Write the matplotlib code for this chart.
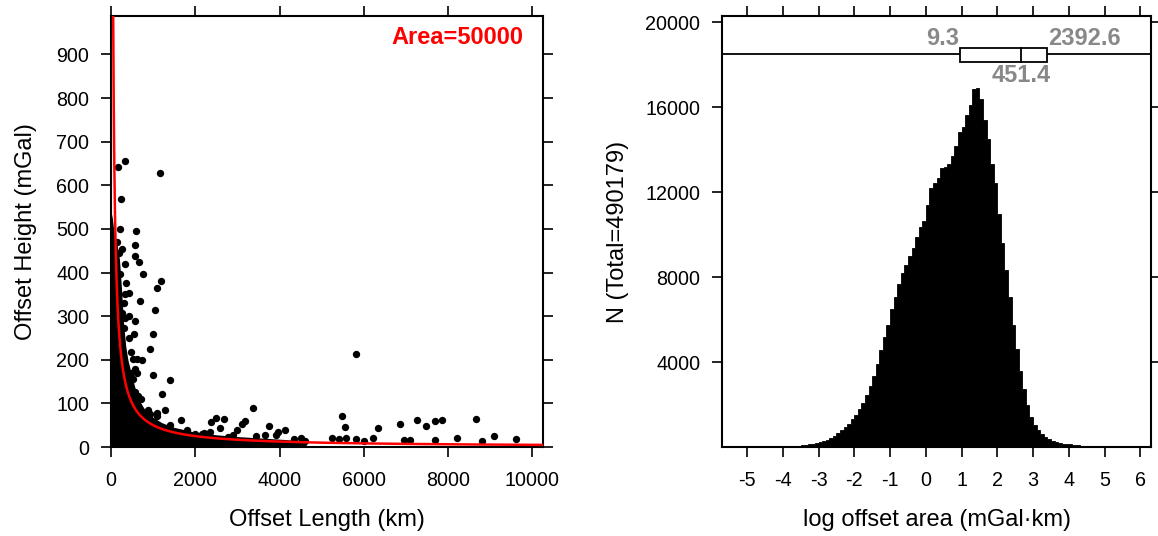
import numpy as np
import matplotlib
matplotlib.use("Agg")
import matplotlib.pyplot as plt
from matplotlib.patches import Rectangle

plt.rcParams['font.family'] = ['Liberation Sans', 'DejaVu Sans']
plt.rcParams['axes.unicode_minus'] = False

# ========== left panel data ==========
area = 50000  # reference curve: height = area / length

# sparse points (length km, height mGal)
pt_len = [170, 323, 230, 1166, 213, 596, 579, 579, 655, 323, 749, 213, 357, 1191,
          1081, 425, 698, 298, 1038, 570, 255, 340, 996, 553, 417, 936, 230, 298,
          468, 510, 613, 723, 255, 570, 613, 996, 1387, 528, 570, 638, 1217, 383,
          5804, 1277, 1081, 936, 1660, 2485, 2681, 2383, 2596, 2979, 3106, 3174,
          3379, 3745, 4128, 3957, 5472, 5549, 5574, 5804, 5234, 5404, 6000, 6213,
          6340, 6868, 6962, 7106, 7260, 7464, 7685, 7847, 7685, 8213, 8664, 8791,
          9081, 9600, 3447, 3660, 3915, 4340, 4596, 4510, 2170, 2000, 2340, 2766,
          150, 260, 200, 420, 330, 480, 700, 880, 1100, 1400, 1800, 2200, 2900]
pt_hgt = [643, 655, 568, 628, 500, 496, 464, 438, 425, 419, 396, 397, 377, 380,
          364, 354, 335, 331, 314, 290, 307, 296, 260, 260, 249, 225, 270, 272,
          217, 202, 202, 199, 202, 178, 170, 166, 153, 155, 127, 116, 121, 131,
          213, 86, 79, 75, 63, 67, 65, 57, 44, 40, 53, 59,
          90, 49, 40, 34, 72, 47, 20, 18, 20, 18, 14, 20,
          44, 53, 16, 16, 63, 49, 59, 61, 16, 20, 65, 14,
          26, 18, 26, 28, 28, 18, 14, 20, 30, 30, 34, 23,
          470, 455, 445, 300, 350, 170, 110, 85, 70, 50, 40, 32, 27]

# outline of the dense cloud of points under the curve
mass_len = [0, 30, 60, 100, 150, 200, 250, 300, 350, 400, 500, 600, 700, 800,
            1000, 1200, 1500, 2000, 2500, 3000, 3500, 4000, 4300, 4600, 4650]
mass_top = [540, 525, 500, 480, 460, 430, 360, 280, 230, 200, 160, 125, 102, 86,
            68, 56, 45, 34, 28, 24, 21, 18, 16, 13, 0]

# ========== right panel data ==========
bin_start = -4.0
bin_width = 0.1
counts = [15, 20, 30, 40, 55, 75, 100, 130, 160, 190,
          230, 280, 340, 420, 520, 640, 780, 930, 1100, 1300,
          1520, 1780, 2070, 2450, 2870, 3350, 3900, 4560, 5200, 5770,
          6490, 7050, 7700, 8180, 8580, 8980, 9380, 9870, 10350, 10670,
          11390, 12200, 12440, 12680, 13160, 13200, 13320, 13720, 14200, 14850,
          15090, 15650, 16130, 16860, 16900, 16380, 15410, 14530, 13320, 12440,
          10990, 9630, 8340, 7050, 5770, 4640, 3600, 2710, 1990, 1420,
          1020, 780, 590, 460, 370, 300, 240, 190, 160, 140,
          120, 100, 85, 70, 60, 50, 40, 30, 22, 16,
          10, 6]
total_n = 490179
q_low, q_med, q_high = 9.3, 451.4, 2392.6

# ========== figure ==========
fig = plt.figure(figsize=(11.58, 5.36), dpi=100)
ax1 = fig.add_axes([0.0959, 0.166, 0.373, 0.804])
ax2 = fig.add_axes([0.6235, 0.166, 0.3705, 0.804])

tick_kw = dict(direction='out', length=7.2, width=1.2, labelsize=14.2)
lab_fs = 17

# ---- left: scatter ----
ax1.fill_between(mass_len, 0, mass_top, color='black', lw=0, zorder=2)
ax1.scatter(pt_len, pt_hgt, s=28, color='black', lw=0, zorder=3)
L = np.linspace(area / 1000, 10250, 3000)
ax1.plot(L, area / L, color='red', lw=1.8, zorder=4)
ax1.text(0.955, 0.951, 'Area=50000', transform=ax1.transAxes, color='red',
         fontsize=lab_fs, fontweight='bold', ha='right', va='center')
ax1.set_xlim(0, 10250)
ax1.set_ylim(0, 988)
ax1.set_xticks([0, 2000, 4000, 6000, 8000, 10000])
ax1.set_yticks(range(0, 901, 100))
ax1.tick_params(axis='both', top=True, right=True, **tick_kw)
ax1.tick_params(axis='y', pad=8.5)
ax1.tick_params(axis='x', pad=10)
ax1.set_xlabel('Offset Length (km)', fontsize=lab_fs, labelpad=14)
ax1.set_ylabel('Offset Height (mGal)', fontsize=lab_fs, labelpad=14)

# ---- right: histogram ----
edges = bin_start + bin_width * np.arange(len(counts) + 1)
ax2.stairs(counts, edges, fill=True, facecolor='black', edgecolor='black', lw=0.6)
ax2.set_xlim(-5.7, 6.3)
ax2.set_ylim(0, 20300)
ax2.set_xticks(range(-5, 7))
ax2.set_yticks([4000, 8000, 12000, 16000, 20000])
ax2.tick_params(axis='both', top=True, right=True, **tick_kw)
ax2.tick_params(axis='y', pad=8.5)
ax2.tick_params(axis='x', pad=10)
ax2.set_xlabel('log offset area (mGal\u00b7km)', fontsize=lab_fs, labelpad=14)
ax2.set_ylabel('N (Total=%d)' % total_n, fontsize=lab_fs, labelpad=12)

# box strip on top
lo, med, hi = np.log10(q_low), np.log10(q_med), np.log10(q_high)
ax2.axhline(18500, color='black', lw=1.3, zorder=3)
ax2.add_patch(Rectangle((lo, 18150), hi - lo, 650, facecolor='white',
                        edgecolor='black', lw=1.3, zorder=4))
ax2.plot([med, med], [18150, 18800], color='black', lw=1.3, zorder=5)
gray = '#888888'
ax2.text(lo - 0.05, 19250, '%.1f' % q_low, color=gray, fontsize=lab_fs,
         fontweight='bold', ha='right', va='center')
ax2.text(hi + 0.05, 19250, '%.1f' % q_high, color=gray, fontsize=lab_fs,
         fontweight='bold', ha='left', va='center')
ax2.text(med, 17500, '%.1f' % q_med, color=gray, fontsize=lab_fs,
         fontweight='bold', ha='center', va='center')

for ax in (ax1, ax2):
    for sp in ax.spines.values():
        sp.set_linewidth(1.5)

fig.savefig('out.png', dpi=100)
